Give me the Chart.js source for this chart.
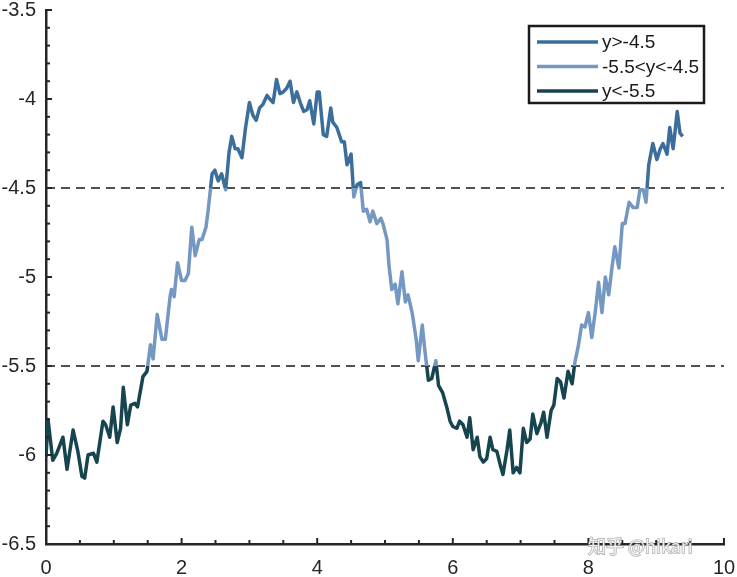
<!DOCTYPE html>
<html>
<head>
<meta charset="utf-8">
<script src="https://cdn.jsdelivr.net/npm/chart.js@4.4.1/dist/chart.umd.min.js"></script>
<style>
  html, body { margin: 0; padding: 0; background: #fff; }
  #wrap { width: 737px; height: 577px; }
</style>
</head>
<body>
<div id="wrap"><canvas id="chart"></canvas></div>
<script>
// values
const xs = [
  0.00, 0.03, 0.10, 0.16, 0.25, 0.31, 0.40, 0.47, 0.53, 0.57, 0.62, 0.70, 0.75, 0.84, 0.88, 0.94, 0.99,
  1.05, 1.10, 1.14, 1.20, 1.25, 1.31, 1.35, 1.43, 1.49, 1.54, 1.58, 1.64, 1.71, 1.76, 1.83, 1.85, 1.89, 1.94,
  2.00, 2.05, 2.10, 2.15, 2.20, 2.26, 2.30, 2.36, 2.39, 2.45, 2.49, 2.54, 2.59, 2.65, 2.70, 2.74, 2.79, 2.83, 2.89, 2.94,
  3.00, 3.05, 3.10, 3.15, 3.20, 3.26, 3.30, 3.35, 3.40, 3.45, 3.50, 3.55, 3.60, 3.65, 3.70, 3.75, 3.80, 3.85, 3.89, 3.95,
  4.00, 4.03, 4.09, 4.14, 4.20, 4.23, 4.29, 4.36, 4.40, 4.44, 4.50, 4.54, 4.59, 4.64, 4.68, 4.73, 4.78, 4.82, 4.88, 4.94, 4.97,
  5.03, 5.06, 5.10, 5.15, 5.19, 5.25, 5.30, 5.34, 5.40, 5.46, 5.49, 5.55, 5.59, 5.64, 5.69, 5.75, 5.79, 5.85, 5.91, 5.96,
  6.00, 6.06, 6.10, 6.15, 6.21, 6.25, 6.30, 6.36, 6.40, 6.45, 6.50, 6.55, 6.59, 6.65, 6.71, 6.74, 6.80, 6.84, 6.89, 6.94, 6.99,
  7.04, 7.09, 7.14, 7.18, 7.24, 7.30, 7.34, 7.39, 7.45, 7.49, 7.54, 7.59, 7.64, 7.70, 7.76, 7.80, 7.85, 7.90, 7.95,
  8.00, 8.05, 8.10, 8.15, 8.20, 8.25, 8.30, 8.35, 8.39, 8.45, 8.50, 8.54, 8.60, 8.66, 8.72, 8.76, 8.81, 8.85, 8.89, 8.95,
  9.01, 9.06, 9.10, 9.16, 9.20, 9.25, 9.31, 9.35, 9.39
]
const ys = [
  -6.01, -5.80, -6.03, -5.99, -5.90, -6.08, -5.86, -5.98, -6.12, -6.13, -6.00, -5.99, -6.04, -5.81, -5.83, -5.90, -5.73,
  -5.93, -5.85, -5.62, -5.83, -5.72, -5.71, -5.73, -5.56, -5.53, -5.38, -5.46, -5.21, -5.35, -5.35, -5.11, -5.07, -5.11, -4.92,
  -5.02, -5.02, -4.98, -4.72, -4.88, -4.79, -4.79, -4.72, -4.63, -4.42, -4.40, -4.46, -4.42, -4.51, -4.30, -4.21, -4.28, -4.28, -4.33, -4.17,
  -4.02, -4.09, -4.12, -4.05, -4.03, -3.98, -4.00, -4.02, -3.89, -3.97, -3.96, -3.94, -3.90, -4.02, -3.96, -4.02, -4.07, -4.06, -4.01, -4.14,
  -3.96, -3.96, -4.20, -4.21, -4.05, -4.13, -4.16, -4.24, -4.24, -4.37, -4.31, -4.55, -4.48, -4.47, -4.63, -4.62, -4.69, -4.63, -4.70, -4.67, -4.70,
  -4.79, -4.94, -5.07, -5.04, -5.15, -4.97, -5.14, -5.10, -5.20, -5.35, -5.47, -5.27, -5.42, -5.58, -5.57, -5.47, -5.61, -5.65, -5.73, -5.81,
  -5.84, -5.85, -5.81, -5.83, -5.90, -5.79, -5.97, -5.90, -6.01, -6.04, -6.02, -5.90, -5.97, -5.98, -6.07, -6.11, -5.97, -5.86, -6.10, -6.07, -6.10,
  -5.85, -5.93, -5.91, -5.77, -5.88, -5.82, -5.76, -5.90, -5.75, -5.72, -5.57, -5.59, -5.68, -5.53, -5.60, -5.48, -5.39, -5.27, -5.28,
  -5.20, -5.34, -5.20, -5.03, -5.20, -5.00, -5.10, -4.94, -4.83, -4.95, -4.70, -4.70, -4.58, -4.61, -4.61, -4.51, -4.51, -4.58, -4.37, -4.25,
  -4.34, -4.28, -4.25, -4.31, -4.16, -4.28, -4.07, -4.19, -4.21
]
const upperLimit = -4.5
const lowerLimit = -5.5
const legendLabels = ['y>-4.5', '-5.5<y<-4.5', 'y<-5.5']
const bandColors = ['#3c6e9c', '#7498c1', '#164550']
const dashColor = '#505050'
const axisColor = '#262626'

const fontName = '"Liberation Sans", Arial, sans-serif'

function bandGradient(context) {
  const chart = context.chart
  const area = chart.chartArea
  if (!area) return bandColors[0]
  const y = chart.scales.y
  const h = area.bottom - area.top
  const s1 = (y.getPixelForValue(upperLimit) - area.top) / h
  const s2 = (y.getPixelForValue(lowerLimit) - area.top) / h
  const g = chart.ctx.createLinearGradient(0, area.top, 0, area.bottom)
  g.addColorStop(0, bandColors[0])
  g.addColorStop(s1, bandColors[0])
  g.addColorStop(s1, bandColors[1])
  g.addColorStop(s2, bandColors[1])
  g.addColorStop(s2, bandColors[2])
  g.addColorStop(1, bandColors[2])
  return g
}

// inward tick marks, legend box and the watermark
const extras = {
  id: 'extras',
  afterDraw(chart) {
    const ctx = chart.ctx
    const sx = chart.scales.x
    const sy = chart.scales.y
    const area = chart.chartArea
    ctx.save()
    ctx.strokeStyle = axisColor
    ctx.lineWidth = 2
    for (let i = 0; i <= 20; i++) {
      const px = sx.getPixelForValue(i * 0.5)
      const len = i % 4 === 0 ? 6 : 4
      ctx.beginPath()
      ctx.moveTo(px, area.bottom)
      ctx.lineTo(px, area.bottom - len)
      ctx.stroke()
    }
    for (let i = 0; i <= 30; i++) {
      const py = sy.getPixelForValue(-6.5 + i * 0.1)
      const len = i % 5 === 0 ? 6 : 4
      ctx.beginPath()
      ctx.moveTo(area.left, py)
      ctx.lineTo(area.left + len, py)
      ctx.stroke()
    }

    // legend
    const lx = 529, ly = 26, lw = 175, lh = 77
    ctx.fillStyle = '#fff'
    ctx.fillRect(lx, ly, lw, lh)
    ctx.lineWidth = 2.5
    ctx.strokeStyle = '#1a1a1a'
    ctx.strokeRect(lx, ly, lw, lh)
    ctx.font = '19px ' + fontName
    ctx.textBaseline = 'middle'
    ctx.textAlign = 'left'
    legendLabels.forEach((t, i) => {
      const ry = 42 + i * 24.5
      ctx.strokeStyle = bandColors[i]
      ctx.lineWidth = 3.5
      ctx.beginPath()
      ctx.moveTo(537, ry)
      ctx.lineTo(598, ry)
      ctx.stroke()
      ctx.fillStyle = '#1a1a1a'
      ctx.fillText(t, 602, ry + 1)
    })

    // watermark
    ctx.font = '18px "Noto Sans CJK SC", sans-serif'
    ctx.textBaseline = 'middle'
    ctx.lineWidth = 1.5
    ctx.strokeStyle = 'rgba(140,140,140,0.7)'
    ctx.strokeText('知乎 @hikari', 588, 546)
    ctx.fillStyle = 'rgba(255,255,255,0.85)'
    ctx.fillText('知乎 @hikari', 588, 546)
    ctx.restore()
  }
}

new Chart('chart', {
  type: 'line',
  data: {
    datasets: [
      {
        label: 'y',
        data: xs.map((x, i) => ({ x: x, y: ys[i] })),
        borderColor: bandGradient,
        borderWidth: 3.5,
        pointRadius: 0,
        tension: 0,
        borderJoinStyle: 'round',
        order: 0
      },
      {
        label: 'upper',
        data: [{ x: 0, y: upperLimit }, { x: 10, y: upperLimit }],
        borderColor: dashColor,
        borderWidth: 2,
        borderDash: [9, 6],
        pointRadius: 0,
        order: 1
      },
      {
        label: 'lower',
        data: [{ x: 0, y: lowerLimit }, { x: 10, y: lowerLimit }],
        borderColor: dashColor,
        borderWidth: 2,
        borderDash: [9, 6],
        pointRadius: 0,
        order: 1
      }
    ]
  },
  options: {
    responsive: true,
    maintainAspectRatio: false,
    animation: false,
    layout: { padding: { top: 10, right: 13, left: 0, bottom: 0 } },
    plugins: {
      legend: { display: false },
      tooltip: { enabled: false }
    },
    scales: {
      x: {
        type: 'linear',
        min: 0,
        max: 10,
        grid: { display: false },
        border: { display: true, color: axisColor, width: 2.5 },
        ticks: {
          stepSize: 2,
          padding: 4,
          color: axisColor,
          maxRotation: 0,
          font: { family: fontName, size: 20, lineHeight: 1.2 },
          callback: v => String(v)
        },
        afterFit: s => { s.height = 33; s.paddingLeft = 0; s.paddingRight = 0 }
      },
      y: {
        type: 'linear',
        min: -6.5,
        max: -3.5,
        grid: { display: false },
        border: { display: true, color: axisColor, width: 2.5 },
        ticks: {
          stepSize: 0.5,
          padding: 2,
          color: axisColor,
          font: { family: fontName, size: 20, lineHeight: 1 },
          callback: v => String(Number(v.toFixed(1)))
        },
        afterFit: s => { s.width = 46; s.paddingTop = 0; s.paddingBottom = 0 }
      }
    }
  },
  plugins: [extras]
})
</script>
</body>
</html>
